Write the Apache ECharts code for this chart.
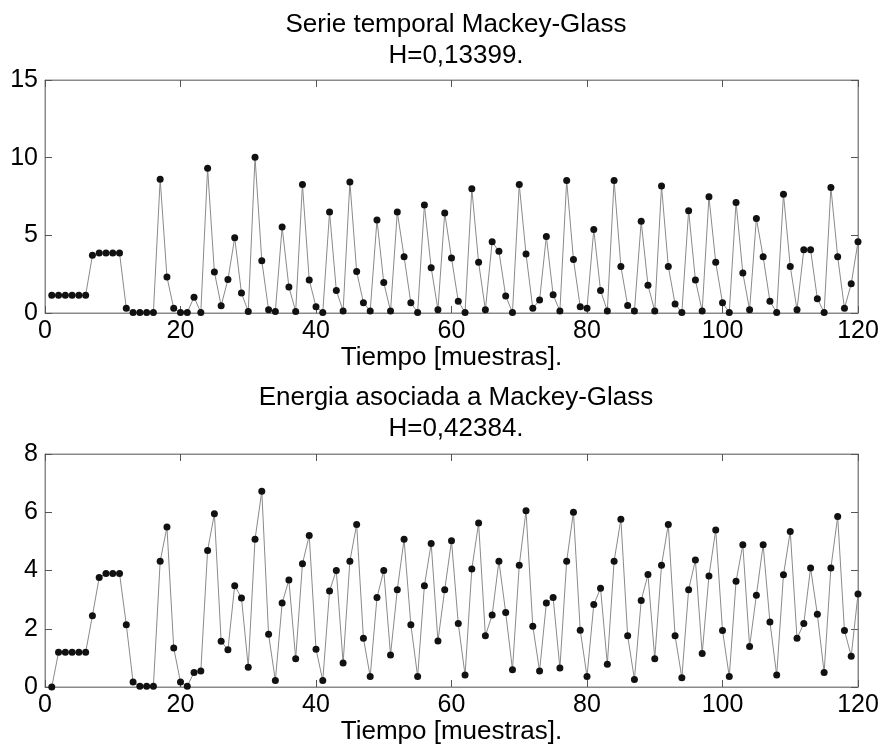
<!DOCTYPE html>
<html>
<head>
<meta charset="utf-8">
<script src="https://cdn.jsdelivr.net/npm/echarts@6/dist/echarts.min.js"></script>
<style>
  html, body { margin: 0; padding: 0; background: #fff; }
  #chart { width: 883px; height: 751px; }
</style>
</head>
<body>
<div id="chart"></div>
<script>
// Mackey-Glass time series, samples 1..120
const serieValues = [
  1.15, 1.15, 1.15, 1.15, 1.15, 1.15, 3.71, 3.86, 3.86, 3.86,
  3.86, 0.30, 0.04, 0.04, 0.04, 0.04, 8.61, 2.32, 0.30, 0.04,
  0.04, 1.02, 0.04, 9.32, 2.64, 0.47, 2.15, 4.84, 1.28, 0.10,
  10.02, 3.37, 0.21, 0.10, 5.54, 1.68, 0.10, 8.27, 2.13, 0.40,
  0.04, 6.50, 1.45, 0.13, 8.44, 2.67, 0.66, 0.13, 5.99, 1.96,
  0.13, 6.50, 3.62, 0.66, 0.04, 6.95, 2.92, 0.21, 6.44, 3.54,
  0.75, 0.04, 8.00, 3.26, 0.21, 4.58, 3.97, 1.09, 0.04, 8.27,
  3.80, 0.30, 0.83, 4.93, 1.17, 0.13, 8.53, 3.45, 0.40, 0.30,
  5.37, 1.45, 0.13, 8.53, 3.00, 0.49, 0.13, 5.90, 1.79, 0.13,
  8.17, 3.00, 0.58, 0.04, 6.59, 2.13, 0.13, 7.48, 3.26, 0.66,
  0.04, 7.12, 2.58, 0.21, 6.08, 3.62, 0.75, 0.04, 7.65, 3.00,
  0.21, 4.07, 4.07, 0.92, 0.04, 8.08, 3.62, 0.30, 1.88, 4.58
];

// Energy associated with the series, samples 1..120
const energiaValues = [
  0.00, 1.19, 1.19, 1.19, 1.19, 1.19, 2.45, 3.76, 3.90, 3.90,
  3.90, 2.14, 0.17, 0.03, 0.03, 0.03, 4.32, 5.49, 1.34, 0.17,
  0.03, 0.50, 0.55, 4.69, 5.95, 1.57, 1.28, 3.48, 3.06, 0.68,
  5.07, 6.72, 1.81, 0.22, 2.88, 3.67, 0.97, 4.23, 5.20, 1.30,
  0.22, 3.30, 4.00, 0.82, 4.32, 5.58, 1.67, 0.36, 3.07, 4.00,
  1.10, 3.34, 5.07, 2.14, 0.36, 3.48, 4.93, 1.58, 3.34, 5.02,
  2.18, 0.41, 4.05, 5.63, 1.76, 2.47, 4.32, 2.56, 0.59, 4.18,
  6.05, 2.09, 0.55, 2.88, 3.07, 0.65, 4.32, 6.00, 1.95, 0.36,
  2.83, 3.39, 0.78, 4.32, 5.76, 1.76, 0.26, 2.97, 3.86, 0.97,
  4.18, 5.58, 1.76, 0.32, 3.34, 4.36, 1.15, 3.81, 5.39, 1.94,
  0.36, 3.63, 4.88, 1.39, 3.15, 4.88, 2.23, 0.41, 3.85, 5.34,
  1.67, 2.18, 4.09, 2.50, 0.50, 4.09, 5.85, 1.94, 1.06, 3.19
];

const xTicks = { min: 0, max: 120, interval: 20 };
const y1Ticks = { min: 0, max: 15, interval: 5 };
const y2Ticks = { min: 0, max: 8, interval: 2 };

const titles = [
  'Serie temporal Mackey-Glass\nH=0,13399.',
  'Energia asociada a Mackey-Glass\nH=0,42384.'
];
const xLabel = 'Tiempo [muestras].';

const FONT = 'Liberation Sans, Arial, sans-serif';
const AXIS_GRAY = '#8a8a8a';
const FS_TICK = 25;
const FS_TEXT = 26;

function toPairs(values) {
  return values.map((v, i) => [i + 1, v]);
}

function xAxes(gridIndex) {
  const base = {
    type: 'value', gridIndex,
    min: xTicks.min, max: xTicks.max, interval: xTicks.interval,
    splitLine: { show: false },
    axisLine: { show: true, onZero: false, lineStyle: { color: AXIS_GRAY, width: 1 } },
    axisTick: { show: true, inside: true, length: 7, lineStyle: { color: '#555' } }
  };
  return [
    Object.assign({}, base, {
      position: 'bottom',
      axisLabel: { color: '#000', fontFamily: FONT, fontSize: FS_TICK, margin: 6, showMinLabel: true, showMaxLabel: true },
      name: xLabel, nameLocation: 'middle', nameGap: 31,
      nameTextStyle: { color: '#000', fontFamily: FONT, fontSize: FS_TEXT }
    }),
    Object.assign({}, base, { position: 'top', axisLabel: { show: false } })
  ];
}

function yAxes(gridIndex, ticks) {
  const base = {
    type: 'value', gridIndex,
    min: ticks.min, max: ticks.max, interval: ticks.interval,
    splitLine: { show: false },
    axisLine: { show: true, onZero: false, lineStyle: { color: AXIS_GRAY, width: 1 } },
    axisTick: { show: true, inside: true, length: 7, lineStyle: { color: '#555' } }
  };
  return [
    Object.assign({}, base, {
      position: 'left',
      axisLabel: { color: '#000', fontFamily: FONT, fontSize: FS_TICK, margin: 7 }
    }),
    Object.assign({}, base, { position: 'right', axisLabel: { show: false } })
  ];
}

function lineSeries(values, xIdx, yIdx) {
  return {
    type: 'line',
    xAxisIndex: xIdx, yAxisIndex: yIdx,
    data: toPairs(values),
    symbol: 'circle', symbolSize: 7,
    showAllSymbol: true,
    itemStyle: { color: '#111' },
    lineStyle: { color: '#8a8a8a', width: 1 },
    animation: false
  };
}

const chart = echarts.init(document.getElementById('chart'), null, { renderer: 'canvas' });
chart.setOption({
  backgroundColor: '#fff',
  animation: false,
  title: [
    {
      text: titles[0], left: 451, top: 4, textAlign: 'center',
      textStyle: { color: '#000', fontFamily: FONT, fontSize: FS_TEXT, fontWeight: 'normal', lineHeight: 31 }
    },
    {
      text: titles[1], left: 451, top: 377, textAlign: 'center',
      textStyle: { color: '#000', fontFamily: FONT, fontSize: FS_TEXT, fontWeight: 'normal', lineHeight: 31 }
    }
  ],
  grid: [
    { left: 45, right: 25, top: 80, height: 233, show: true, borderColor: AXIS_GRAY, borderWidth: 1 },
    { left: 45, right: 25, top: 454, height: 233, show: true, borderColor: AXIS_GRAY, borderWidth: 1 }
  ],
  xAxis: xAxes(0).concat(xAxes(1)),
  yAxis: yAxes(0, y1Ticks).concat(yAxes(1, y2Ticks)),
  series: [
    lineSeries(serieValues, 0, 0),
    lineSeries(energiaValues, 2, 2)
  ]
});
</script>
</body>
</html>
